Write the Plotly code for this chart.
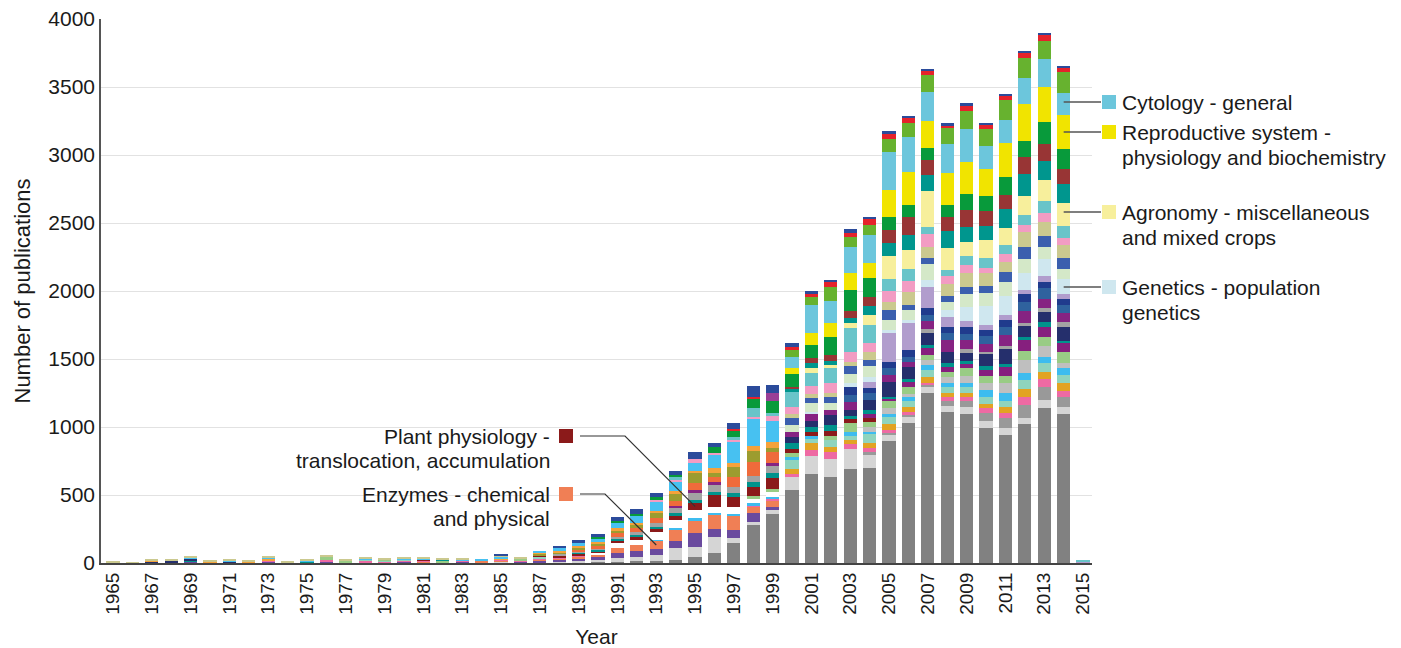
import plotly.graph_objects as go

YEARS = [1965, 1966, 1967, 1968, 1969, 1970, 1971, 1972, 1973, 1974,
         1975, 1976, 1977, 1978, 1979, 1980, 1981, 1982, 1983, 1984,
         1985, 1986, 1987, 1988, 1989, 1990, 1991, 1992, 1993, 1994,
         1995, 1996, 1997, 1998, 1999, 2000, 2001, 2002, 2003, 2004,
         2005, 2006, 2007, 2008, 2009, 2010, 2011, 2012, 2013, 2014, 2015]
TICK_YEARS = [1965, 1967, 1969, 1971, 1973, 1975, 1977, 1979, 1981, 1983, 1985,
              1987, 1989, 1991, 1993, 1995, 1997, 1999, 2001, 2003, 2005, 2007,
              2009, 2011, 2013, 2015]
Y_TICKS = [0, 500, 1000, 1500, 2000, 2500, 3000, 3500, 4000]

# values per series, bottom of stack first (1965 ... 2015)
dkgray = [0,0,0,0,0,0,0,0,0,0, 0,0,0,0,0,0,0,0,0,0, 0,0,0,0,4,6,10,12,12,25,
          46,71,145,279,360,537,654,635,691,701, 897,1027,1247,1107,1095,995,941,1022,1137,1093, 0]
ltgray = [0,0,4,0,0,0,0,0,0,0, 0,0,0,0,0,0,0,0,0,0, 8,0,6,10,12,16,24,30,45,85,
          69,118,36,24,30,95,135,127,147,93, 44,49,50,49,54,49,49,42,61,56, 0]
graym = [0,0,0,0,0,0,0,0,0,0, 0,0,0,0,0,0,0,0,0,0, 0,0,0,0,0,0,0,0,0,0,
         0,0,0,0,0,0,0,0,0,25, 17,15,10,37,39,61,73,97,93,74, 0]
purple = [0,0,0,6,10,0,0,0,10,0, 0,10,5,6,6,8,0,0,10,6, 0,10,10,14,16,20,40,44,45,55,
          103,58,61,62,24,0,0,0,0,0, 0,0,0,0,0,0,0,0,0,0, 0]
salmon = [0,0,0,0,0,0,0,6,0,0, 0,0,0,0,0,0,8,0,0,10, 10,0,12,12,18,22,40,46,60,81,
          98,106,110,49,49,0,0,0,0,0, 0,0,0,0,0,0,0,0,0,0, 0]
pinkhot = [0,0,0,0,0,0,0,0,8,0, 0,10,0,10,8,12,10,0,6,0, 8,8,6,8,6,0,0,0,0,0,
           0,0,0,12,12,24,42,57,34,24, 20,17,19,30,34,32,42,62,59,44, 0]
amber = [0,0,0,0,0,0,0,0,0,0, 0,0,0,0,0,0,0,0,0,0, 0,0,0,0,0,0,0,0,0,0,
         0,0,0,0,0,37,54,31,30,37, 44,37,42,29,25,30,44,54,56,54, 0]
mint = [0,0,0,0,4,0,0,0,0,0, 0,0,0,8,6,6,0,0,0,0, 0,0,14,0,0,0,0,0,0,0,
        0,0,0,0,0,64,30,54,31,73, 49,44,49,44,44,53,44,68,67,61, 0]
skys = [0,0,0,0,0,0,0,0,0,0, 0,0,0,0,0,0,0,0,0,0, 0,0,0,0,0,0,0,0,8,10,
        12,12,12,12,12,24,19,0,32,13, 24,30,37,24,29,49,54,54,44,49, 0]
white = [0,0,0,0,0,0,0,0,0,0, 0,0,0,0,0,0,0,0,0,0, 0,0,0,0,0,10,30,36,60,60,
         61,49,45,32,32,0,0,0,0,0, 0,0,0,0,0,0,0,0,0,0, 0]
silver = [0,0,0,0,0,0,0,0,0,0, 0,0,0,0,0,0,0,0,0,0, 0,0,0,0,0,0,0,0,0,0,
          0,0,0,0,0,0,0,0,0,36, 47,24,36,50,57,57,78,93,78,37, 0]
ltgreen = [0,0,0,0,0,0,0,0,0,0, 0,28,12,0,8,0,0,18,0,0, 0,14,0,0,0,0,0,0,0,0,
           0,0,0,25,25,25,0,30,61,37, 56,49,37,36,56,49,49,66,64,85, 0]
darkred = [0,0,0,0,0,0,0,0,0,0, 0,0,0,0,0,0,6,0,0,0, 0,0,8,10,12,14,20,24,22,30,
           54,86,78,61,78,30,29,39,30,24, 0,0,0,0,0,0,0,0,0,0, 0]
plumlo = [0,0,0,0,0,0,0,0,0,0, 0,0,0,0,0,0,0,0,0,0, 0,0,0,0,0,0,0,0,0,0,
          0,0,0,0,0,0,0,0,0,36, 12,37,54,37,30,41,69,81,78,66, 0]
teals = [3,0,0,0,8,0,0,0,0,0, 8,0,0,0,0,0,0,8,0,0, 0,0,0,0,8,8,10,12,14,22,
         20,24,25,37,37,43,39,41,24,25, 12,24,24,30,24,32,20,25,37,15, 0]
navya = [4,3,6,10,12,0,8,0,0,0, 0,0,0,0,0,0,0,0,0,0, 0,0,0,0,0,0,0,0,0,0,
         0,0,0,0,0,49,44,74,44,74, 111,91,89,80,54,86,107,78,73,103, 0]
gray2 = [0,0,0,0,0,0,0,0,0,0, 0,0,0,0,0,0,0,0,0,0, 0,0,0,10,10,14,20,24,30,40,
         50,49,49,49,56,0,0,0,0,0, 0,0,24,0,32,20,25,25,25,37, 0]
plum = [0,0,0,0,0,0,0,0,0,0, 0,0,0,0,0,0,0,0,0,0, 0,0,0,0,0,0,0,0,0,10,
        23,25,0,0,17,37,49,37,62,0, 49,32,59,86,66,58,81,88,66,66, 0]
orangered = [0,0,0,0,0,0,0,0,0,0, 0,0,0,0,0,0,0,0,0,0, 0,0,0,0,10,14,24,26,36,40,
             54,37,74,98,86,0,0,0,0,0, 0,0,0,0,0,0,0,0,0,0, 0]
olive = [0,0,0,0,0,0,0,0,0,0, 0,0,0,0,0,0,0,0,0,0, 0,0,14,16,18,20,24,28,36,50,
         69,24,73,85,29,0,0,0,0,0, 0,0,0,0,0,0,0,0,0,0, 0]
orange = [0,0,6,0,0,8,0,7,12,6, 6,0,0,0,0,0,0,0,6,0, 8,0,8,8,8,10,14,14,16,18,
          20,37,30,37,45,0,0,0,0,0, 0,0,0,0,0,0,0,0,0,0, 0]
sky90 = [0,0,0,6,6,0,8,0,10,0, 8,0,0,6,0,6,8,0,6,12, 12,0,12,20,24,28,40,48,70,75,
         54,103,150,200,150,0,0,0,0,0, 0,0,0,0,0,0,0,0,0,0, 0]
steel = [0,0,0,0,0,0,0,0,0,0, 0,0,0,0,0,0,0,0,0,0, 0,0,0,0,0,0,0,0,0,0,
         0,0,0,0,0,0,0,0,49,49, 49,41,44,49,44,57,61,66,81,56, 0]
navyb = [0,0,0,0,0,0,0,0,0,0, 0,0,0,0,0,0,0,0,0,0, 0,0,0,0,0,0,0,0,0,0,
         0,0,0,0,0,0,0,0,56,37, 49,49,54,49,54,41,49,56,49,44, 0]
lavender = [0,0,0,0,0,0,0,0,0,0, 0,0,0,0,0,0,0,0,0,0, 0,0,0,0,0,0,0,0,0,0,
            0,0,0,0,0,0,0,0,0,49, 208,197,157,69,44,37,37,30,41,35, 8]
paleblue = [0,0,0,0,0,0,0,0,0,0, 0,0,0,0,0,0,0,0,0,0, 0,0,0,0,0,0,0,0,0,0,
            0,0,0,0,0,0,17,0,29,37, 25,24,49,54,103,142,140,127,130,110, 6]
palegreen = [0,0,0,0,0,0,0,0,0,0, 0,0,0,0,0,0,0,0,0,0, 0,0,0,0,0,0,0,0,0,0,
             0,0,0,0,0,49,62,49,69,78, 73,74,118,61,93,98,105,105,81,74, 0]
blue = [0,0,0,0,0,0,0,0,0,0, 0,0,0,0,0,0,0,0,0,0, 0,0,0,0,0,0,0,0,0,0,
        0,0,0,0,0,49,36,49,59,44, 74,39,42,41,54,49,69,86,81,84, 0]
khaki = [3,3,8,6,10,8,8,8,12,4, 6,10,8,10,10,12,12,12,12,0, 10,10,0,0,0,0,0,0,0,0,
         0,0,0,0,0,32,32,29,32,61, 61,90,81,86,105,98,78,110,110,98, 0]
pink = [0,0,0,0,0,0,0,0,0,0, 0,0,0,0,0,0,0,0,0,0, 0,0,0,0,0,0,0,0,14,14,
        29,12,20,15,37,54,59,69,73,62, 79,86,98,61,57,32,54,49,61,49, 0]
turq = [0,0,0,0,0,0,0,0,0,0, 0,0,0,0,0,0,0,0,0,0, 0,0,0,0,0,0,0,0,0,14,
        0,0,20,60,25,110,98,110,172,134, 85,86,54,42,66,74,69,74,91,86, 10]
paleyellow = [0,0,0,0,0,0,0,0,0,0, 0,0,0,0,0,0,0,0,0,0, 0,0,0,0,0,0,0,0,0,0,
              0,0,0,0,0,0,32,24,41,74, 171,139,264,166,105,132,127,140,155,172, 0]
teal2 = [0,0,0,0,0,0,0,0,0,0, 0,0,0,0,0,0,0,0,0,0, 0,0,0,0,0,0,0,0,0,0,
         0,0,0,0,0,17,37,32,39,66, 98,113,115,123,110,105,135,162,135,140, 0]
brownred = [0,0,0,0,0,0,0,0,0,0, 0,0,0,0,0,0,0,0,0,0, 0,0,0,0,0,0,0,0,0,0,
            0,0,0,0,0,20,36,42,49,69, 98,127,110,103,123,110,105,123,130,106, 0]
green = [0,0,0,0,0,0,0,0,0,0, 0,0,0,0,0,0,0,0,0,0, 0,0,0,0,0,12,15,20,14,20,
         0,39,44,69,90,93,98,130,152,135, 93,93,87,93,115,111,130,123,159,147, 0]
plum2 = [0,0,0,0,0,0,0,0,0,0, 0,0,0,0,0,0,0,0,0,0, 0,0,0,0,0,0,0,0,0,0,
         0,0,0,0,56,0,0,0,0,0, 0,0,0,0,0,0,0,0,0,0, 0]
yellow = [0,0,0,0,0,0,0,0,0,0, 0,0,0,0,0,0,0,0,0,0, 0,0,0,0,0,0,0,0,0,0,
          0,0,0,0,0,42,91,107,123,110, 201,238,203,232,233,196,250,270,257,256, 0]
cyan = [0,0,0,0,0,0,0,0,0,0, 0,0,0,0,0,0,0,0,0,0, 0,0,0,0,0,0,0,0,0,0,
        0,0,0,0,0,81,203,162,191,208, 277,258,213,213,243,173,176,188,206,159, 0]
grass = [0,0,0,0,0,0,0,0,0,0, 0,0,0,0,0,0,0,0,0,0, 0,0,0,0,0,0,0,0,0,0,
         0,0,0,0,0,53,57,103,79,73, 98,103,122,114,137,123,147,147,135,154, 0]
red = [0,0,0,0,0,0,0,0,0,0, 0,0,0,0,0,0,0,0,0,0, 0,0,0,0,0,0,0,0,0,0,
       0,0,15,12,0,20,24,36,24,42, 37,37,32,25,42,36,32,41,44,36, 0]
topnavy = [0,0,0,0,0,0,0,0,0,0, 0,0,0,0,0,0,0,0,0,0, 8,0,0,20,24,19,25,30,30,30,
           51,30,40,87,60,30,22,8,32,20, 19,17,12,12,13,13,12,15,12,12, 0]

SERIES = [
    ("Other 1", dkgray, "#818181"), ("Other 2", ltgray, "#d5d5d5"), ("Other 3", graym, "#999999"),
    ("Other 4", purple, "#6a4a9e"), ("Enzymes - chemical and physical", salmon, "#f07f55"),
    ("Other 5", pinkhot, "#ee6aa3"), ("Other 6", amber, "#e2a323"), ("Other 7", mint, "#8fd4be"),
    ("Other 8", skys, "#3dbcef"), ("Other 9", white, "#ffffff"), ("Other 10", silver, "#bfbfbf"),
    ("Other 11", ltgreen, "#99cc85"),
    ("Plant physiology - translocation, accumulation", darkred, "#8b1a1a"),
    ("Other 12", plumlo, "#861f7e"), ("Other 13", teals, "#00938c"), ("Other 14", navya, "#252f6c"),
    ("Other 15", gray2, "#a3a3a3"), ("Other 16", plum, "#862382"), ("Other 17", orangered, "#ef6b3b"),
    ("Other 18", olive, "#9c9c2f"), ("Other 19", orange, "#f5a23a"), ("Other 20", sky90, "#47c1f1"),
    ("Other 21", steel, "#2f629e"), ("Other 22", navyb, "#203b8d"), ("Other 23", lavender, "#b19dcd"),
    ("Genetics - population genetics", paleblue, "#cfe7ef"), ("Other 24", palegreen, "#d4e8c8"),
    ("Other 25", blue, "#3b5fae"), ("Other 26", khaki, "#cbc98f"), ("Other 27", pink, "#f29cc3"),
    ("Other 28", turq, "#69c4c9"), ("Agronomy - miscellaneous and mixed crops", paleyellow, "#f7ef9c"),
    ("Other 29", teal2, "#00968e"), ("Other 30", brownred, "#983535"), ("Other 31", green, "#089a3b"),
    ("Other 32", plum2, "#9a3f96"), ("Reproductive system - physiology and biochemistry", yellow, "#f1e400"),
    ("Cytology - general", cyan, "#6cc6dc"), ("Other 33", grass, "#67b22f"), ("Other 34", red, "#e5222b"),
    ("Other 35", topnavy, "#2b4b9b"),
]
for name, vals, _ in SERIES:
    assert len(vals) == len(YEARS), (name, len(vals))

# the page body has an 8px margin, so the figure is offset by 8px in the window
OFF = 8
W, H = 1401 - OFF, 648 - OFF
ML, MT = 101 - OFF, 19 - OFF
PW, PH = 991, 544
MR, MB = W - ML - PW, H - MT - PH
XR = [1964.38, 2015.46]
YR = [0, 4000]

FONT = "Liberation Sans, Arial, sans-serif"
TXT = "#1a1a1a"

fig = go.Figure()
for name, vals, col in SERIES:
    fig.add_trace(go.Bar(x=YEARS, y=vals, name=name, marker=dict(color=col, line=dict(width=0)),
                         width=0.68, showlegend=False))


def px_x(px):
    # window pixel column -> paper x
    return (px - OFF - ML) / PW


def data_x(year):
    return (year - XR[0]) / (XR[1] - XR[0])


def val_from_py(py):
    # window pixel row -> data value
    return (OFF + MT + PH - py) / PH * (YR[1] - YR[0])


def seg_mid(series_vals, year):
    i = YEARS.index(year)
    idx = [s[1] is series_vals for s in SERIES].index(True)
    below = sum(SERIES[k][1][i] for k in range(idx))
    return below + series_vals[i] / 2.0


shapes = []
annotations = []

# right-hand callouts at the 2014 bar (label rows in window pixels)
right = [
    ("#6cc6dc", 102, ["Cytology - general"]),
    ("#f1e400", 132, ["Reproductive system -", "physiology and biochemistry"]),
    ("#f7ef9c", 212, ["Agronomy - miscellaneous", "and mixed crops"]),
    ("#cfe7ef", 287, ["Genetics - population", "genetics"]),
]
for col, py, lines in right:
    v = val_from_py(py)
    shapes.append(dict(type="line", xref="paper", yref="y", x0=data_x(2014), x1=px_x(1101),
                       y0=v, y1=v, line=dict(color="#555555", width=1.5), layer="above"))
    shapes.append(dict(type="rect", xref="paper", yref="y", ysizemode="pixel", yanchor=v,
                       x0=px_x(1102), x1=px_x(1116), y0=-7, y1=7,
                       fillcolor=col, line=dict(width=0), layer="above"))
    for k, t in enumerate(lines):
        annotations.append(dict(text=t, xref="paper", yref="y", x=px_x(1120), y=v,
                                xanchor="left", yanchor="middle", yshift=-25 * k, showarrow=False,
                                font=dict(family=FONT, size=21, color=TXT)))

# left-hand callouts
left = [
    (darkred, 1995, "#8b1a1a", 436, 625, ["Plant physiology -", "translocation, accumulation"]),
    (salmon, 1993, "#f07f55", 494, 605, ["Enzymes - chemical", "and physical"]),
]
for vals, yr, col, py, bend, lines in left:
    v = val_from_py(py)
    target = seg_mid(vals, yr)
    shapes.append(dict(type="path", xref="paper", yref="y",
                       path="M %f,%f L %f,%f L %f,%f" % (px_x(580), v, px_x(bend), v, data_x(yr), target),
                       line=dict(color="#333333", width=1.2), layer="above"))
    shapes.append(dict(type="rect", xref="paper", yref="y", ysizemode="pixel", yanchor=v,
                       x0=px_x(559), x1=px_x(573), y0=-7, y1=7,
                       fillcolor=col, line=dict(width=0), layer="above"))
    for k, t in enumerate(lines):
        annotations.append(dict(text=t, xref="paper", yref="y", x=px_x(552), y=v,
                                xanchor="right", yanchor="middle", yshift=-24 * k, showarrow=False,
                                font=dict(family=FONT, size=21, color=TXT)))

fig.update_layout(
    width=W, height=H, autosize=False,
    margin=dict(l=ML, r=MR, t=MT, b=MB, pad=0),
    barmode="stack", bargap=0.3,
    plot_bgcolor="white", paper_bgcolor="white",
    font=dict(family=FONT, size=21, color=TXT),
    shapes=shapes, annotations=annotations,
    xaxis=dict(range=XR, tickmode="array", tickvals=TICK_YEARS, ticktext=[str(t) for t in TICK_YEARS],
               tickangle=-90, ticks="", showgrid=False, zeroline=False, automargin=False,
               ticklabeloverflow="allow",
               showline=True, linecolor="#444444", linewidth=2,
               tickfont=dict(family=FONT, size=19, color=TXT),
               title=dict(text="Year", font=dict(family=FONT, size=21, color=TXT), standoff=17)),
    yaxis=dict(range=YR, tickmode="array", tickvals=Y_TICKS, ticks="", showgrid=True,
               gridcolor="#e2e2e2", gridwidth=1, zeroline=False, automargin=False,
               ticklabeloverflow="allow",
               showline=True, linecolor="#555555", linewidth=1.5,
               tickfont=dict(family=FONT, size=21, color=TXT),
               title=dict(text="Number of publications", font=dict(family=FONT, size=22, color=TXT),
                          standoff=12)),
)

fig.write_html("out.html")
